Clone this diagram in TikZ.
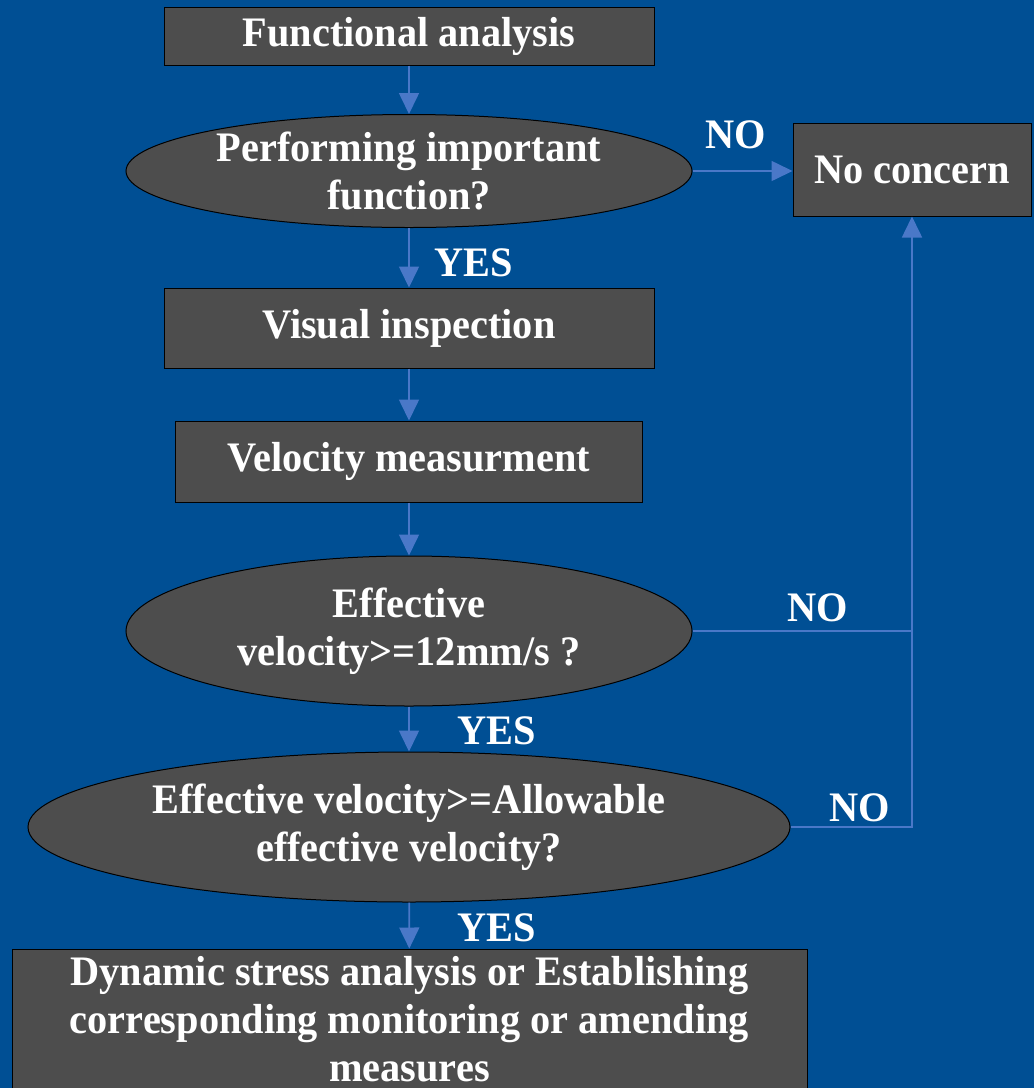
\documentclass[tikz,border=0pt]{standalone}
\usepackage{fontspec}
\setmainfont{Liberation Serif}[FakeStretch=0.96]
\usetikzlibrary{shapes.geometric,arrows.meta}
\definecolor{slideblue}{RGB}{0,79,148}
\definecolor{boxgray}{RGB}{77,77,77}
\definecolor{flowblue}{RGB}{74,120,200}
\tikzset{
  chart/.style={text=white, font=\fontsize{42}{48}\selectfont\bfseries},
  procbox/.style={chart, rectangle, draw=black, fill=boxgray, line width=1pt, align=center, inner sep=0pt},
  decision/.style={chart, ellipse, draw=black, fill=boxgray, line width=1pt, align=center, inner sep=0pt},
  answer/.style={chart, inner sep=0pt},
  flow/.style={draw=flowblue, line width=1.6pt, -{Triangle[length=21pt,width=20pt]}},
  joinline/.style={draw=flowblue, line width=1.6pt}
}
\begin{document}
\begin{tikzpicture}[x=1pt,y=-1pt]
  \clip (0,0) rectangle (1034,1088);
  \fill[slideblue] (0,0) rectangle (1034,1088);
  % main column
  \node[procbox, minimum width=490pt, minimum height=58pt] (fa) at (409,36) {Functional analysis};
  \node[decision, minimum width=566pt, minimum height=113pt, inner ysep=-8pt] (q1) at (409,171) {Performing important\\function?};
  \node[procbox, minimum width=238pt, minimum height=93pt] (nc) at (912,169.5) {No concern};
  \node[procbox, minimum width=490pt, minimum height=80pt] (vi) at (409,328) {Visual inspection};
  \node[procbox, minimum width=467pt, minimum height=81pt] (vm) at (409,461.5) {Velocity measurment};
  \node[decision, minimum width=566pt, minimum height=150pt] (q2) at (409,631) {Effective\\velocity>=12mm/s ?};
  \node[decision, minimum width=762pt, minimum height=150pt] (q3) at (409,827) {Effective velocity>=Allowable\\effective velocity?};
  \node[procbox, minimum width=795pt, minimum height=140pt] (ds) at (409.5,1019) {Dynamic stress analysis or Establishing\\corresponding monitoring or amending\\measures};
  % answers
  \node[answer] (no1) at (736,135) {NO};
  \node[answer] (yes1) at (474,263) {YES};
  \node[answer] (no2) at (818,608) {NO};
  \node[answer] (yes2) at (497,731) {YES};
  \node[answer] (no3) at (860,808) {NO};
  \node[answer] (yes3) at (497,928) {YES};
  % connectors
  \coordinate (join) at (q2.east -| nc.south);
  \draw[flow] (fa) -- (q1);
  \draw[flow] (q1.east) -- (q1.east -| nc.west);
  \draw[flow] (q1) -- (vi);
  \draw[flow] (vi) -- (vm);
  \draw[flow] (vm) -- (q2);
  \draw[flow] (q2.east) -| (nc.south);
  \draw[flow] (q2) -- (q3);
  \draw[joinline] (q3.east) -| (join);
  \draw[flow] (q3) -- (ds);
\end{tikzpicture}
\end{document}
